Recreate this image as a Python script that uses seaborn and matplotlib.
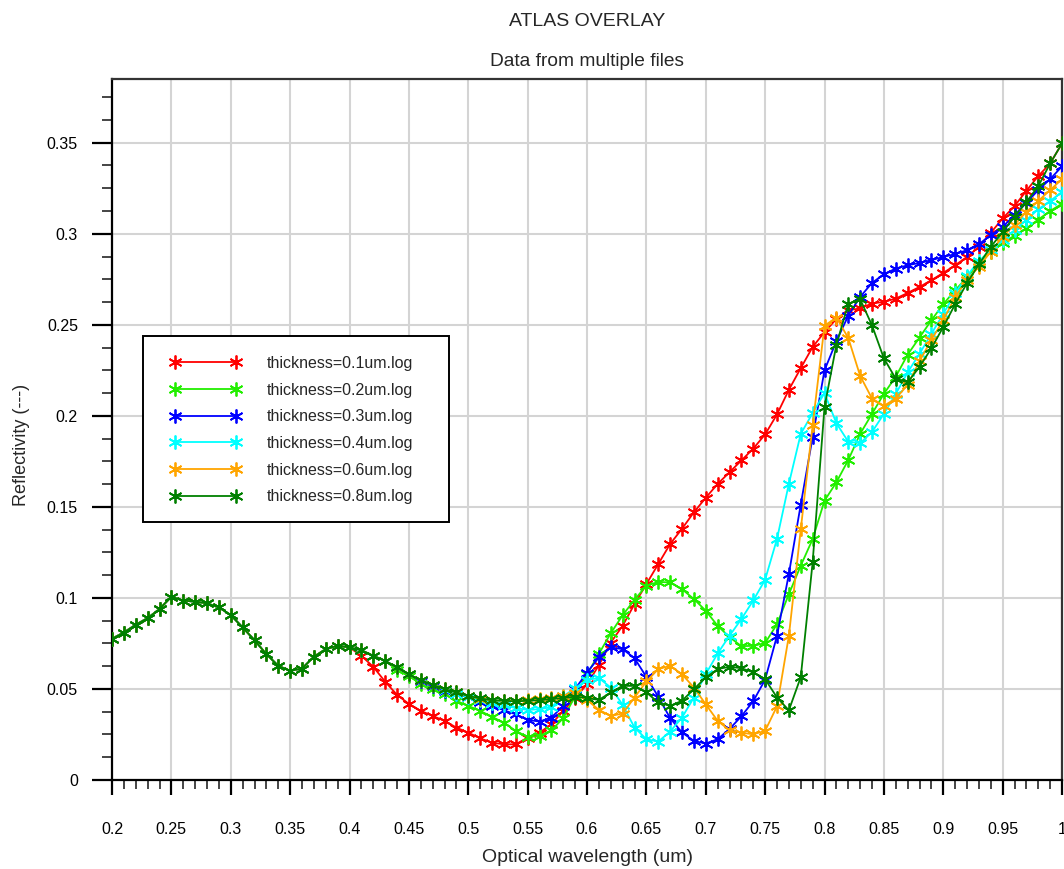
import numpy as np
import pandas as pd
import matplotlib
matplotlib.use("Agg")
import matplotlib.pyplot as plt
from matplotlib.ticker import MultipleLocator, FuncFormatter
from matplotlib.patches import Rectangle
import seaborn as sns

# ---------------- data ----------------
wavelength = [0.20, 0.21, 0.22, 0.23, 0.24, 0.25, 0.26, 0.27, 0.28, 0.29,
              0.30, 0.31, 0.32, 0.33, 0.34, 0.35, 0.36, 0.37, 0.38, 0.39,
              0.40, 0.41, 0.42, 0.43, 0.44, 0.45, 0.46, 0.47, 0.48, 0.49,
              0.50, 0.51, 0.52, 0.53, 0.54, 0.55, 0.56, 0.57, 0.58, 0.59,
              0.60, 0.61, 0.62, 0.63, 0.64, 0.65, 0.66, 0.67, 0.68, 0.69,
              0.70, 0.71, 0.72, 0.73, 0.74, 0.75, 0.76, 0.77, 0.78, 0.79,
              0.80, 0.81, 0.82, 0.83, 0.84, 0.85, 0.86, 0.87, 0.88, 0.89,
              0.90, 0.91, 0.92, 0.93, 0.94, 0.95, 0.96, 0.97, 0.98, 0.99, 1.00]

refl_01 = [0.0776, 0.0810, 0.0853, 0.0889, 0.0939, 0.1007, 0.0985, 0.0980, 0.0970, 0.0948,
           0.0906, 0.0838, 0.0768, 0.0691, 0.0627, 0.0600, 0.0612, 0.0677, 0.0719, 0.0737,
           0.0728, 0.0682, 0.0622, 0.0540, 0.0468, 0.0418, 0.0380, 0.0352, 0.0325, 0.0288,
           0.0260, 0.0229, 0.0205, 0.0196, 0.0196, 0.0233, 0.0260, 0.0306, 0.0380, 0.0450,
           0.0526, 0.0630, 0.0755, 0.0847, 0.0966, 0.1076, 0.1186, 0.1296, 0.1380, 0.1470,
           0.1550, 0.1626, 0.1690, 0.1755, 0.1820, 0.1898, 0.2008, 0.2143, 0.2262, 0.2378,
           0.2460, 0.2532, 0.2580, 0.2590, 0.2617, 0.2626, 0.2644, 0.2675, 0.2708, 0.2745,
           0.2785, 0.2827, 0.2873, 0.2928, 0.3005, 0.3084, 0.3152, 0.3236, 0.3317, 0.3386, 0.3496]

refl_02 = [0.0776, 0.0810, 0.0853, 0.0889, 0.0939, 0.1007, 0.0985, 0.0980, 0.0970, 0.0948,
           0.0906, 0.0838, 0.0768, 0.0691, 0.0627, 0.0600, 0.0612, 0.0677, 0.0719, 0.0737,
           0.0728, 0.0713, 0.0682, 0.0655, 0.0605, 0.0572, 0.0526, 0.0499, 0.0471, 0.0435,
           0.0407, 0.0380, 0.0347, 0.0315, 0.0270, 0.0236, 0.0242, 0.0273, 0.0339, 0.0460,
           0.0580, 0.0693, 0.0806, 0.0905, 0.0990, 0.1067, 0.1088, 0.1085, 0.1048, 0.0994,
           0.0930, 0.0847, 0.0785, 0.0735, 0.0737, 0.0752, 0.0856, 0.1021, 0.1177, 0.1323,
           0.1534, 0.1635, 0.1757, 0.1901, 0.2011, 0.2121, 0.2215, 0.2336, 0.2430, 0.2525,
           0.2613, 0.2690, 0.2760, 0.2840, 0.2900, 0.2950, 0.2990, 0.3030, 0.3078, 0.3125, 0.3165]

refl_03 = [0.0776, 0.0810, 0.0853, 0.0889, 0.0939, 0.1007, 0.0985, 0.0980, 0.0970, 0.0948,
           0.0906, 0.0838, 0.0768, 0.0691, 0.0627, 0.0600, 0.0612, 0.0677, 0.0719, 0.0737,
           0.0728, 0.0713, 0.0682, 0.0655, 0.0618, 0.0580, 0.0545, 0.0515, 0.0490, 0.0470,
           0.0455, 0.0426, 0.0407, 0.0383, 0.0361, 0.0330, 0.0321, 0.0343, 0.0407, 0.0500,
           0.0590, 0.0673, 0.0728, 0.0719, 0.0669, 0.0566, 0.0457, 0.0340, 0.0261, 0.0215,
           0.0200, 0.0224, 0.0280, 0.0350, 0.0433, 0.0551, 0.0792, 0.1132, 0.1513, 0.1883,
           0.2250, 0.2410, 0.2550, 0.2653, 0.2730, 0.2778, 0.2809, 0.2827, 0.2840, 0.2855,
           0.2873, 0.2888, 0.2910, 0.2943, 0.2992, 0.3038, 0.3102, 0.3170, 0.3240, 0.3300, 0.3370]

refl_04 = [0.0776, 0.0810, 0.0853, 0.0889, 0.0939, 0.1007, 0.0985, 0.0980, 0.0970, 0.0948,
           0.0906, 0.0838, 0.0768, 0.0691, 0.0627, 0.0600, 0.0612, 0.0677, 0.0719, 0.0737,
           0.0728, 0.0713, 0.0682, 0.0655, 0.0618, 0.0580, 0.0548, 0.0523, 0.0495, 0.0475,
           0.0455, 0.0437, 0.0422, 0.0410, 0.0395, 0.0385, 0.0389, 0.0400, 0.0460, 0.0505,
           0.0550, 0.0560, 0.0508, 0.0413, 0.0288, 0.0224, 0.0211, 0.0266, 0.0343, 0.0453,
           0.0581, 0.0695, 0.0792, 0.0884, 0.0986, 0.1100, 0.1324, 0.1627, 0.1901, 0.2015,
           0.2125, 0.1960, 0.1858, 0.1850, 0.1911, 0.2011, 0.2120, 0.2239, 0.2341, 0.2450,
           0.2560, 0.2672, 0.2770, 0.2850, 0.2910, 0.2965, 0.3020, 0.3075, 0.3135, 0.3180, 0.3230]

refl_06 = [0.0776, 0.0810, 0.0853, 0.0889, 0.0939, 0.1007, 0.0985, 0.0980, 0.0970, 0.0948,
           0.0906, 0.0838, 0.0768, 0.0691, 0.0627, 0.0600, 0.0612, 0.0677, 0.0719, 0.0737,
           0.0728, 0.0713, 0.0682, 0.0655, 0.0618, 0.0580, 0.0548, 0.0523, 0.0499, 0.0481,
           0.0462, 0.0446, 0.0437, 0.0436, 0.0434, 0.0440, 0.0445, 0.0450, 0.0460, 0.0476,
           0.0440, 0.0385, 0.0352, 0.0365, 0.0453, 0.0541, 0.0609, 0.0627, 0.0581, 0.0508,
           0.0416, 0.0325, 0.0273, 0.0260, 0.0251, 0.0270, 0.0405, 0.0792, 0.1376, 0.1948,
           0.2495, 0.2540, 0.2428, 0.2220, 0.2095, 0.2055, 0.2095, 0.2170, 0.2300, 0.2418,
           0.2525, 0.2653, 0.2745, 0.2820, 0.2901, 0.2983, 0.3050, 0.3120, 0.3180, 0.3240, 0.3300]

refl_08 = [0.0776, 0.0810, 0.0853, 0.0889, 0.0939, 0.1007, 0.0985, 0.0980, 0.0970, 0.0948,
           0.0906, 0.0838, 0.0768, 0.0691, 0.0627, 0.0600, 0.0612, 0.0677, 0.0719, 0.0737,
           0.0728, 0.0713, 0.0682, 0.0655, 0.0618, 0.0580, 0.0548, 0.0523, 0.0499, 0.0481,
           0.0462, 0.0448, 0.0438, 0.0435, 0.0432, 0.0435, 0.0438, 0.0444, 0.0450, 0.0458,
           0.0450, 0.0440, 0.0481, 0.0517, 0.0517, 0.0481, 0.0426, 0.0407, 0.0435, 0.0499,
           0.0563, 0.0609, 0.0622, 0.0614, 0.0591, 0.0554, 0.0453, 0.0383, 0.0565, 0.1195,
           0.2048, 0.2390, 0.2615, 0.2641, 0.2497, 0.2316, 0.2204, 0.2184, 0.2269, 0.2371,
           0.2488, 0.2613, 0.2729, 0.2832, 0.2928, 0.3010, 0.3093, 0.3175, 0.3261, 0.3386, 0.3496]

series_labels = ["thickness=0.1um.log", "thickness=0.2um.log", "thickness=0.3um.log",
                 "thickness=0.4um.log", "thickness=0.6um.log", "thickness=0.8um.log"]
series_values = [refl_01, refl_02, refl_03, refl_04, refl_06, refl_08]
series_colors = ["#ff0000", "#22ee00", "#0000ff", "#00ffff", "#ffa500", "#008000"]

x_ticks = [0.2, 0.25, 0.3, 0.35, 0.4, 0.45, 0.5, 0.55, 0.6, 0.65, 0.7, 0.75, 0.8, 0.85, 0.9, 0.95, 1.0]
y_ticks = [0, 0.05, 0.1, 0.15, 0.2, 0.25, 0.3, 0.35]

# ---------------- style ----------------
sns.set_style("white")
plt.rcParams["font.family"] = ["Liberation Sans", "DejaVu Sans"]

W, H = 1064, 869
fig = plt.figure(figsize=(W / 100, H / 100), dpi=100)
ax_l, ax_r, ax_t, ax_b = 112, 1062, 79, 780
ax = fig.add_axes([ax_l / W, 1 - ax_b / H, (ax_r - ax_l) / W, (ax_b - ax_t) / H])

frames = []
for lab, vals in zip(series_labels, series_values):
    frames.append(pd.DataFrame({"wavelength": wavelength, "reflectivity": vals, "file": lab}))
df = pd.concat(frames, ignore_index=True)

for lab, col in zip(series_labels, series_colors):
    sub = df[df["file"] == lab]
    sns.lineplot(data=sub, x="wavelength", y="reflectivity", ax=ax, color=col,
                 label=lab, sort=False, linewidth=1.3,
                 marker=(6, 2, 0), markersize=10,
                 markeredgecolor=col, markeredgewidth=1.3, zorder=3)

ax.set_xlim(0.2, 1.0)
ax.set_ylim(0, 0.385)
ax.set_xticks(x_ticks)
ax.set_yticks(y_ticks)
ax.xaxis.set_minor_locator(MultipleLocator(0.01))
ax.yaxis.set_minor_locator(MultipleLocator(0.0125))
fmt = FuncFormatter(lambda v, p: "%g" % round(v, 3))
ax.xaxis.set_major_formatter(fmt)
ax.yaxis.set_major_formatter(fmt)

ax.grid(True, which="major", color="#d4d4d4", linewidth=1.5, zorder=0)
ax.set_axisbelow(True)

for side in ["left", "bottom", "top", "right"]:
    ax.spines[side].set_visible(True)
    ax.spines[side].set_linewidth(1.6)
    ax.spines[side].set_color("#000000")
ax.spines["top"].set_color("#333333")
ax.spines["right"].set_color("#333333")

ax.tick_params(axis="y", which="major", direction="out", length=14.5, width=1.6,
               pad=10, labelsize=11.5, left=True, colors="black")
ax.tick_params(axis="y", which="minor", direction="out", length=7.2, width=1.2, left=True)
ax.tick_params(axis="x", which="major", direction="out", length=10.5, width=1.6,
               pad=20, labelsize=11.5, bottom=True, colors="black")
ax.tick_params(axis="x", which="minor", direction="out", length=6.5, width=1.2, bottom=True)

ax.set_xlabel("")
ax.set_ylabel("")

fig.text(587 / W, 1 - 21 / H, "ATLAS OVERLAY", ha="center", va="center", fontsize=14)
fig.text(587 / W, 1 - 61 / H, "Data from multiple files", ha="center", va="center", fontsize=13.8)
fig.text(587 / W, 1 - 858 / H, "Optical wavelength (um)", ha="center", va="center", fontsize=14)
fig.text(22 / W, 1 - 445 / H, "Reflectivity (---)", ha="center", va="center",
         rotation=90, fontsize=13)

# legend frame and entries
bx0, bx1, by0, by1 = 143, 449, 336, 522
ax.add_patch(Rectangle(((bx0 - ax_l) / (ax_r - ax_l), (ax_b - by1) / (ax_b - ax_t)),
                       (bx1 - bx0) / (ax_r - ax_l), (by1 - by0) / (ax_b - ax_t),
                       transform=ax.transAxes, facecolor="white", edgecolor="black",
                       linewidth=1.4, zorder=5))
handles, labels = ax.get_legend_handles_labels()
leg = ax.legend(handles, labels, loc="upper left",
                bbox_to_anchor=((170 - ax_l) / (ax_r - ax_l), (ax_b - 356) / (ax_b - ax_t)),
                frameon=False, numpoints=2, handlelength=4.45, handletextpad=1.6,
                labelspacing=0.73, borderpad=0, borderaxespad=0, fontsize=11.5)
leg.set_zorder(6)

fig.savefig("out.png", dpi=100)
